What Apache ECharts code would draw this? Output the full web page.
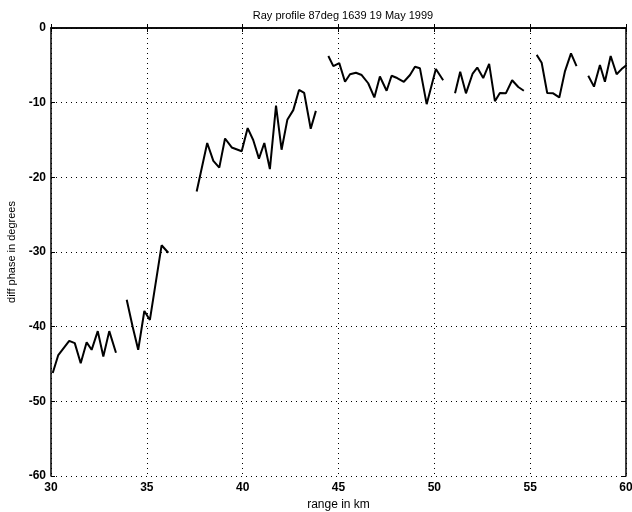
<!DOCTYPE html>
<html>
<head>
<meta charset="utf-8">
<script src="https://cdn.jsdelivr.net/npm/echarts@6/dist/echarts.min.js"></script>
<style>html,body{margin:0;padding:0;background:#fff;}#c{width:632px;height:512px;}</style>
</head>
<body>
<div id="c"></div>
<script>
var titleText = 'Ray profile 87deg 1639 19 May 1999';
var xName = 'range in km';
var yName = 'diff phase in degrees';
var xTicks = [30, 35, 40, 45, 50, 55, 60];
var yTicks = [-60, -50, -40, -30, -20, -10, 0];

// range (km) and phase (deg); null marks a gap in the profile
var rangeKm = [
  30.09, 30.38, 30.95, 31.24, 31.55, 31.86, 32.12, 32.44, 32.73, 33.04, 33.39, null,
  33.95, 34.26, 34.55, 34.87, 35.16, 35.77, 36.12, null,
  37.60, 38.15, 38.47, 38.78, 39.08, 39.43, 39.95, 40.26, 40.55, 40.85, 41.13, 41.42, 41.74, 42.03, 42.33, 42.64, 42.94, 43.21, 43.55, 43.82, null,
  44.47, 44.73, 45.04, 45.34, 45.60, 45.91, 46.21, 46.55, 46.87, 47.16, 47.51, 47.77, 48.06, 48.41, 48.73, 48.99, 49.25, 49.60, 50.08, 50.46, null,
  51.08, 51.35, 51.65, 52.00, 52.24, 52.55, 52.86, 53.16, 53.42, 53.73, 54.06, 54.38, 54.67, null,
  55.34, 55.60, 55.89, 56.20, 56.52, 56.81, 57.13, 57.42, null,
  58.03, 58.33, 58.64, 58.90, 59.20, 59.51, 59.77, 60.03
];
var phaseDeg = [
  -46.2, -43.8, -41.9, -42.2, -44.9, -42.1, -43.1, -40.6, -44.0, -40.6, -43.5, null,
  -36.4, -40.0, -43.1, -37.9, -39.1, -29.1, -30.1, null,
  -21.9, -15.4, -17.8, -18.7, -14.8, -16.0, -16.5, -13.4, -15.0, -17.5, -15.4, -18.9, -10.4, -16.3, -12.3, -11.0, -8.3, -8.7, -13.5, -11.1, null,
  -3.75, -5.1, -4.7, -7.2, -6.2, -6.0, -6.3, -7.4, -9.3, -6.5, -8.4, -6.4, -6.7, -7.2, -6.3, -5.2, -5.4, -10.2, -5.5, -7.0, null,
  -8.75, -5.85, -8.75, -6.1, -5.3, -6.7, -4.8, -9.8, -8.7, -8.75, -7.0, -7.9, -8.4, null,
  -3.6, -4.65, -8.7, -8.75, -9.3, -5.85, -3.4, -5.1, null,
  -6.4, -7.85, -4.95, -7.2, -3.75, -6.2, -5.5, -4.95
];

var pts = rangeKm.map(function (x, i) {
  if (x === null || phaseDeg[i] === null) return ['-', '-'];
  return [x, phaseDeg[i]];
});

var lbl = {color: '#000', fontFamily: 'Liberation Sans', fontWeight: 'bold', fontSize: 12};
var axLine = {show: true, lineStyle: {color: '#000', width: 1.5}};
var tick = {show: true, inside: true, length: 4, lineStyle: {color: '#000', width: 1}};
var split = {show: true, lineStyle: {color: '#000', width: 1, type: [1, 4]}};

var chart = echarts.init(document.getElementById('c'), null, {renderer: 'canvas'});
chart.setOption({
  animation: false,
  backgroundColor: '#fff',
  title: {
    text: titleText, left: 338, top: 5, textAlign: 'center',
    textStyle: {color: '#000', fontFamily: 'Liberation Sans', fontWeight: 'normal', fontSize: 11}
  },
  grid: {left: 51, right: 6, top: 28, bottom: 36, show: false, containLabel: false, outerBoundsMode: 'none'},
  xAxis: [{
    type: 'value', min: xTicks[0], max: xTicks[xTicks.length - 1], interval: 5,
    name: xName, nameLocation: 'middle', nameGap: 22,
    nameTextStyle: {color: '#000', fontFamily: 'Liberation Sans', fontSize: 12},
    axisLine: axLine, axisTick: tick, splitLine: split,
    axisLabel: Object.assign({margin: 6}, lbl)
  }, {
    type: 'value', position: 'top', min: xTicks[0], max: xTicks[xTicks.length - 1], interval: 5,
    axisLine: axLine, axisTick: tick, splitLine: {show: false}, axisLabel: {show: false}
  }],
  yAxis: [{
    type: 'value', min: yTicks[0], max: yTicks[yTicks.length - 1], interval: 10,
    name: yName, nameLocation: 'middle', nameGap: 33, nameRotate: 90,
    nameTextStyle: {color: '#000', fontFamily: 'Liberation Sans', fontSize: 11},
    axisLine: axLine, axisTick: tick, splitLine: split,
    axisLabel: Object.assign({margin: 5}, lbl)
  }, {
    type: 'value', position: 'right', min: yTicks[0], max: yTicks[yTicks.length - 1], interval: 10,
    axisLine: axLine, axisTick: tick, splitLine: {show: false}, axisLabel: {show: false}
  }],
  series: [{
    type: 'line', data: pts, showSymbol: false, connectNulls: false,
    lineStyle: {color: '#000', width: 2}, itemStyle: {color: '#000'}
  }]
});
</script>
</body>
</html>
